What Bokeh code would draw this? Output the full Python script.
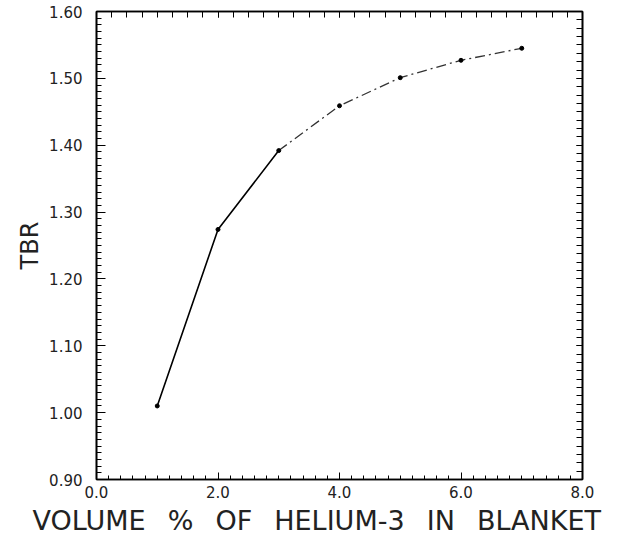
from bokeh.plotting import figure
from bokeh.models import (Range1d, LinearAxis, SingleIntervalTicker, Title,
                          PrintfTickFormatter, CustomJSTickFormatter)
from bokeh.embed import file_html
from bokeh.resources import INLINE

# Data
helium3_pct = [1.0, 2.0, 3.0, 4.0, 5.0, 6.0, 7.0]
tbr = [1.010, 1.274, 1.392, 1.459, 1.501, 1.527, 1.545]

GAP = "\u2002\u00a0"
x_words = ["VOLUME", "%", "OF", "HELIUM-3", "IN", "BLANKET"]
x_title = GAP.join(x_words)
y_title = "TBR"

FONT = "DejaVu Sans"

p = figure(frame_width=486, frame_height=468, output_backend="svg", toolbar_location=None,
           x_range=Range1d(0, 8), y_range=Range1d(0.90, 1.60),
           min_border_left=96, min_border_right=28, min_border_top=11, min_border_bottom=10)
p.background_fill_color = "white"
p.border_fill_color = "white"
p.grid.visible = False
p.outline_line_color = "black"
p.outline_line_width = 1.6

# bottom axis
xa = p.xaxis[0]
xa.ticker = SingleIntervalTicker(interval=2, num_minor_ticks=10)
xa.formatter = PrintfTickFormatter(format="%.1f")
xa.major_tick_in = 7
xa.major_tick_out = 0
xa.minor_tick_in = 4
xa.minor_tick_out = 0
xa.major_label_standoff = 6
xa.major_label_text_font = FONT
xa.major_label_text_font_size = "15px"
xa.major_label_text_color = "#222222"
xa.axis_line_color = "black"
xa.axis_line_width = 1.6

# left axis
ya = p.yaxis[0]
ya.ticker = SingleIntervalTicker(interval=0.1, num_minor_ticks=10)
ya.formatter = PrintfTickFormatter(format="%.2f")
ya.major_tick_in = 9
ya.major_tick_out = 0
ya.minor_tick_in = 5
ya.minor_tick_out = 0
ya.major_label_standoff = 14
ya.major_label_text_font = FONT
ya.major_label_text_font_size = "15px"
ya.major_label_text_color = "#222222"
ya.axis_line_color = "black"
ya.axis_line_width = 1.6
ya.axis_label = y_title
ya.axis_label_text_font = FONT
ya.axis_label_text_font_style = "normal"
ya.axis_label_text_font_size = "24px"
ya.axis_label_text_color = "#222222"
ya.axis_label_standoff = 2

blank = CustomJSTickFormatter(code="return ''")

# top axis (ticks only)
ta = LinearAxis(ticker=SingleIntervalTicker(interval=2, num_minor_ticks=8), formatter=blank,
                major_tick_in=6, major_tick_out=0, minor_tick_in=6, minor_tick_out=0,
                major_label_standoff=0, axis_line_color="black", axis_line_width=1.6)
p.add_layout(ta, "above")

# right axis (ticks only)
ra = LinearAxis(ticker=SingleIntervalTicker(interval=0.1, num_minor_ticks=8), formatter=blank,
                major_tick_in=6, major_tick_out=0, minor_tick_in=6, minor_tick_out=0,
                major_label_standoff=0, axis_line_color="black", axis_line_width=1.6)
p.add_layout(ra, "right")

# curve: solid first part, broken lighter remainder
p.line(helium3_pct[:3], tbr[:3], line_color="black", line_width=1.6)
p.line(helium3_pct[2:], tbr[2:], line_color="#333333", line_width=1.3, line_dash="10 4 2 4")
p.scatter(helium3_pct, tbr, size=4, color="black")

# x title, shifted left of frame centre as in the reference
p.add_layout(Title(text=x_title, align="left", offset=-64, text_font=FONT,
                   text_font_size="27px", text_font_style="normal", text_color="#222222",
                   standoff=4), "below")

open("out.html", "w").write(file_html(p, INLINE))
